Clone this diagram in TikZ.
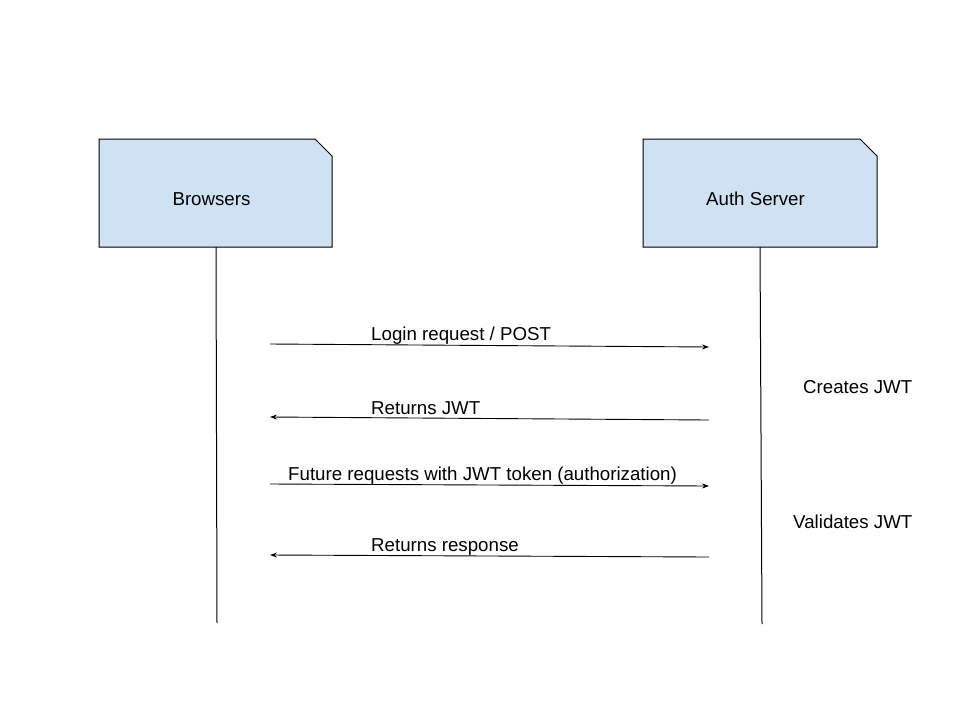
\documentclass[tikz,border=0pt]{standalone}
\usepackage{fontspec}
\setmainfont{Liberation Sans}
\usetikzlibrary{arrows.meta}
\definecolor{boxblue}{HTML}{CFE2F3}
\begin{document}
\begin{tikzpicture}[x=1pt,y=-1pt,
  font=\fontsize{18.7}{22}\selectfont,
  actor/.style={draw=black, fill=boxblue, line width=1pt, line join=miter},
  life/.style={draw=black, line width=1pt},
  msg/.style={draw=black, line width=0.9pt, -{Stealth[length=7pt,width=5pt]}},
  lbl/.style={anchor=base west, inner sep=0pt},
  ttl/.style={anchor=base, inner sep=0pt}]
\useasboundingbox (0,0) rectangle (960,720);
\fill[white] (0,0) rectangle (960,720);

% actor boxes
\draw[actor] (99,139) -- (315,139) -- (332,156) -- (332,247) -- (99,247) -- cycle;
\draw[actor] (643,139) -- (860,139) -- (877,156) -- (877,247) -- (643,247) -- cycle;
\node[ttl] (browsers) at (211.5,205) {Browsers};
\node[ttl] (auth) at (755.5,205) {Auth Server};

% lifelines
\coordinate (bTop) at (216,247);
\coordinate (bBot) at (217,623);
\coordinate (aTop) at (760,247);
\coordinate (aBot) at (762,624);
\draw[life] (bTop) -- (bBot);
\draw[life] (aTop) -- (aBot);

% message end points
\coordinate (m1s) at (270,344);
\coordinate (m1e) at (709,347);
\coordinate (m2s) at (709,420);
\coordinate (m2e) at (270,417);
\coordinate (m3s) at (270,484);
\coordinate (m3e) at (709,486);
\coordinate (m4s) at (709,557);
\coordinate (m4e) at (270,555);

\draw[msg] (m1s) -- (m1e);
\draw[msg] (m2s) -- (m2e);
\draw[msg] (m3s) -- (m3e);
\draw[msg] (m4s) -- (m4e);

% labels
\node[lbl] (l1) at (371,340) {Login request / POST};
\node[lbl] (l2) at (371,414) {Returns JWT};
\node[lbl] (l3) at (288,480) {Future requests with JWT token (authorization)};
\node[lbl] (l4) at (371,551) {Returns response};
\node[lbl] (n1) at (803,393) {Creates JWT};
\node[lbl] (n2) at (793,528) {Validates JWT};
\end{tikzpicture}
\end{document}
